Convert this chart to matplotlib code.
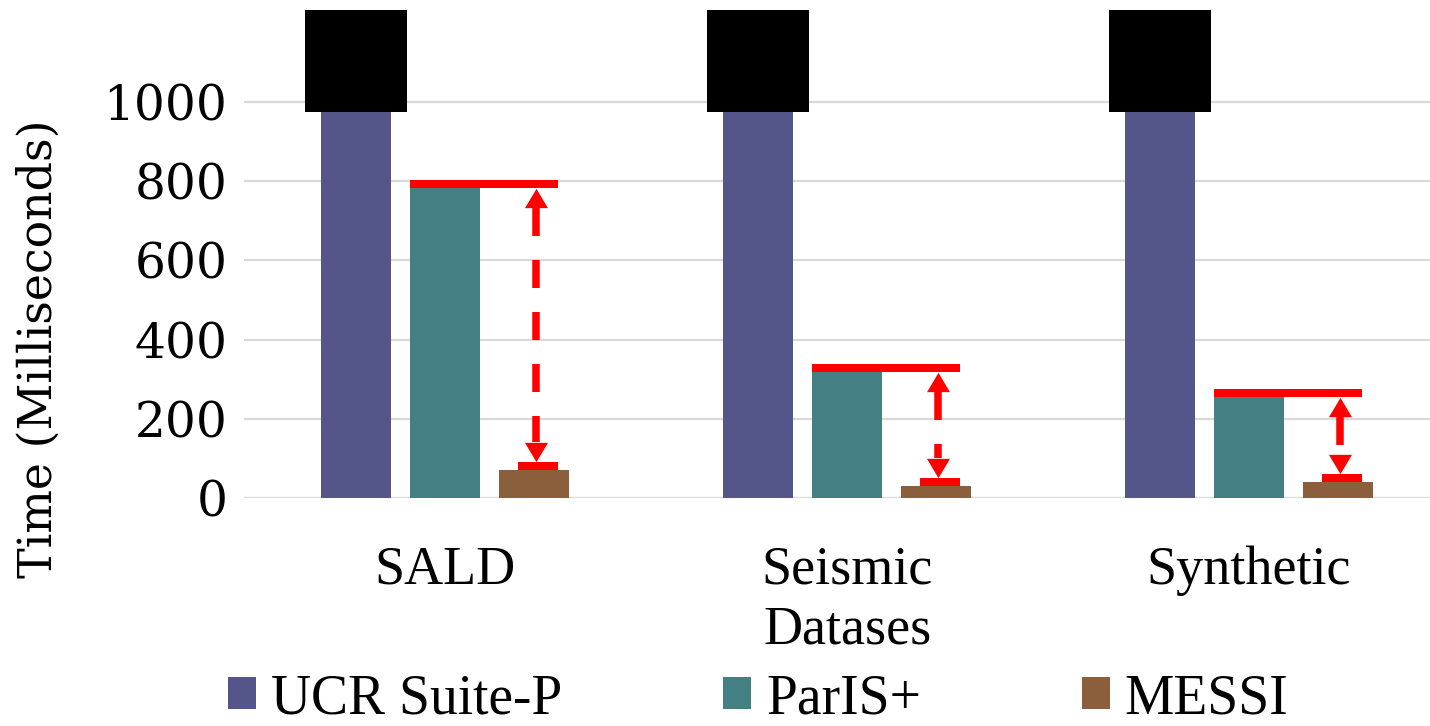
import matplotlib
matplotlib.use("Agg")
import matplotlib.pyplot as plt
from matplotlib.patches import Rectangle
from matplotlib.path import Path
import numpy as np

# ---- data -------------------------------------------------------------
datasets = ["SALD", "Seismic", "Synthetic"]
series_names = ["UCR Suite-P", "ParIS+", "MESSI"]
ucr_suite_p = [2400, 2600, 2900]      # off the scale, shown truncated
paris_plus = [783, 318, 255]
messi = [71, 30, 40]
y_ticks = [0, 200, 400, 600, 800, 1000]

colors = ["#545589", "#437f83", "#8b5e3c"]
red = "#ff0000"

# ---- figure / axes geometry --------------------------------------------
W, H, DPI = 1430, 726, 100
plt.rcParams["lines.scale_dashes"] = False
fig = plt.figure(figsize=(W / DPI, H / DPI), dpi=DPI)

px_left, px_right = 244, 1450          # axes extends slightly past the canvas
px_zero, px_thousand = 498, 102
units_per_px = 1000 / (px_zero - px_thousand)
y_top = px_zero * units_per_px        # axes reaches the top edge
ax = fig.add_axes([px_left / W, 1 - px_zero / H,
                   (px_right - px_left) / W, px_zero / H])
ax.set_xlim(-0.5, 2.5)
ax.set_ylim(0, y_top)

break_top = (px_zero - 10) * units_per_px
break_bottom = (px_zero - 112) * units_per_px

x = np.arange(len(datasets))
bw = 0.174
off = 0.221

ucr_drawn = np.minimum(ucr_suite_p, break_top)
ax.bar(x - off, ucr_drawn, bw, color=colors[0], label=series_names[0], zorder=3)
ax.bar(x, paris_plus, bw, color=colors[1], label=series_names[1], zorder=3)
ax.bar(x + off, messi, bw, color=colors[2], label=series_names[2], zorder=3)

# axis-break blocks over the truncated bars
brk_w = 0.254
for xi in x - off:
    ax.add_patch(Rectangle((xi - brk_w / 2, break_bottom), brk_w,
                           break_top - break_bottom, facecolor="black",
                           edgecolor="none", zorder=5))

# ---- speed-up markers ----------------------------------------------------
line_px = 8
lw_pt = line_px * 72 / DPI
half = line_px / 2 * units_per_px
head_h = 20 * units_per_px
up_head = Path([(-0.5, -0.42), (0.5, -0.42), (0.0, 0.42), (-0.5, -0.42)],
               [Path.MOVETO, Path.LINETO, Path.LINETO, Path.CLOSEPOLY])
down_head = Path([(-0.5, 0.42), (0.5, 0.42), (0.0, -0.42), (-0.5, 0.42)],
                 [Path.MOVETO, Path.LINETO, Path.LINETO, Path.CLOSEPOLY])
head_ms = 23 * 72 / DPI

for i in range(len(datasets)):
    ax_x = x[i] + off + 0.005
    right = x[i] + off + 0.06
    top_y = paris_plus[i] + half
    low_y = messi[i] + half
    ax.plot([x[i] - bw / 2, right], [top_y, top_y], color=red, lw=lw_pt,
            solid_capstyle="butt", zorder=6)
    ax.plot([ax_x - 0.045, right], [low_y, low_y], color=red, lw=lw_pt,
            solid_capstyle="butt", zorder=6)
    tip_top = paris_plus[i]
    tip_low = messi[i] + 2 * half
    ax.plot([ax_x, ax_x], [tip_top - head_h, tip_low + head_h], color=red,
            lw=7.5 * 72 / DPI, dashes=(28 * 72 / DPI, 24 * 72 / DPI),
            dash_capstyle="butt", zorder=6)
    ax.plot([ax_x], [tip_top - head_h / 2], marker=up_head, ms=head_ms,
            color=red, mec="none", zorder=7)
    ax.plot([ax_x], [tip_low + head_h / 2], marker=down_head, ms=head_ms,
            color=red, mec="none", zorder=7)

# ---- axes styling ---------------------------------------------------------
for s in ax.spines.values():
    s.set_visible(False)
ax.set_yticks(y_ticks)
ax.set_yticklabels([str(v) for v in y_ticks], family="DejaVu Serif",
                   fontsize=35)
ax.tick_params(axis="y", length=0, pad=12)
ax.grid(axis="y", color="#d9d9d9", lw=1.6, zorder=0)
ax.set_axisbelow(True)

ax.set_xticks(x)
ax.set_xticklabels(datasets, family="Liberation Serif", fontsize=39)
ax.tick_params(axis="x", length=0, pad=34)

ax.set_xlabel("Datases", family="Liberation Serif", fontsize=39)
ax.xaxis.set_label_coords((848 - px_left) / (px_right - px_left), -0.215)
ax.set_ylabel("Time (Milliseconds)", family="DejaVu Serif", fontsize=33)
ax.yaxis.set_label_coords(-(244 - 62) / (px_right - px_left), 0.30)

leg = fig.legend(loc="center left", bbox_to_anchor=(228 / W, 1 - 699 / H),
                 ncol=3, frameon=False, borderpad=0, borderaxespad=0,
                 handlelength=0.5, handleheight=0.5, handletextpad=0.27,
                 columnspacing=2.9,
                 prop={"family": "Liberation Serif", "size": 40})

fig.savefig("out.png", dpi=DPI)
